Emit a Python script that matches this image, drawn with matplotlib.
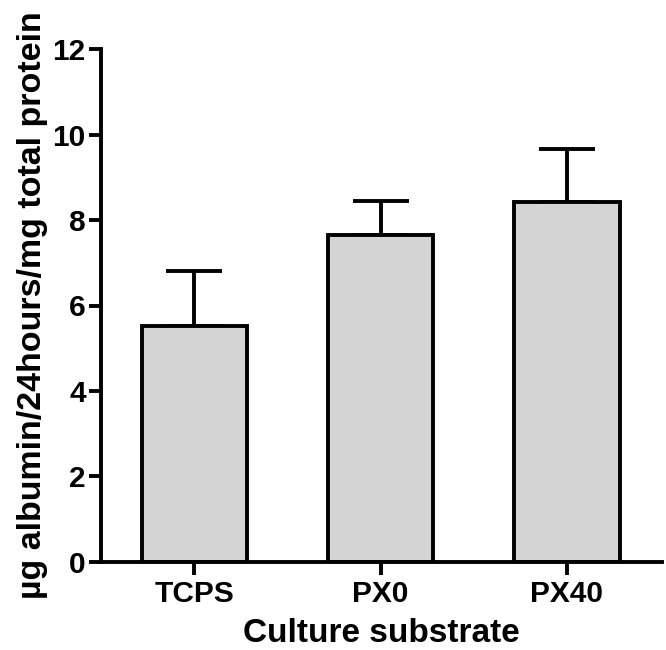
import matplotlib.pyplot as plt
import numpy as np

categories = ['TCPS', 'PX0', 'PX40']
means = [5.53, 7.66, 8.41]
sem = [1.28, 0.79, 1.24]

plt.rcParams['font.family'] = ['Liberation Sans', 'DejaVu Sans']
plt.rcParams['font.weight'] = 'bold'

fig = plt.figure(figsize=(6.66, 6.5), dpi=100)
ax = fig.add_axes([0.1517, 0.1354, 0.8423, 0.7892])

x = np.arange(len(categories))
lw = 2.8
ax.bar(x, means, width=0.565, color='#d4d4d4', edgecolor='black', linewidth=lw, zorder=2)
ax.errorbar(x, means, yerr=[np.zeros(len(means)), sem], fmt='none', ecolor='black',
            elinewidth=lw, capsize=20, capthick=lw, zorder=1)

ax.set_xlim(-0.5, 2.51)
ax.set_ylim(0, 12)
ax.set_yticks(np.arange(0, 13, 2))
ax.set_xticks(x)
ax.set_xticklabels(categories)

for s in ['top', 'right']:
    ax.spines[s].set_visible(False)
for s in ['left', 'bottom']:
    ax.spines[s].set_linewidth(lw)

ax.tick_params(axis='both', length=9, width=lw, labelsize=21.5, color='black')
ax.tick_params(axis='y', pad=2)
ax.tick_params(axis='x', pad=4)

ax.set_xlabel('Culture substrate', fontsize=24, fontweight='bold', labelpad=7)
ax.set_ylabel('µg albumin/24hours/mg total protein', fontsize=24.5, fontweight='bold', labelpad=3)

plt.savefig('out.png', dpi=100)
